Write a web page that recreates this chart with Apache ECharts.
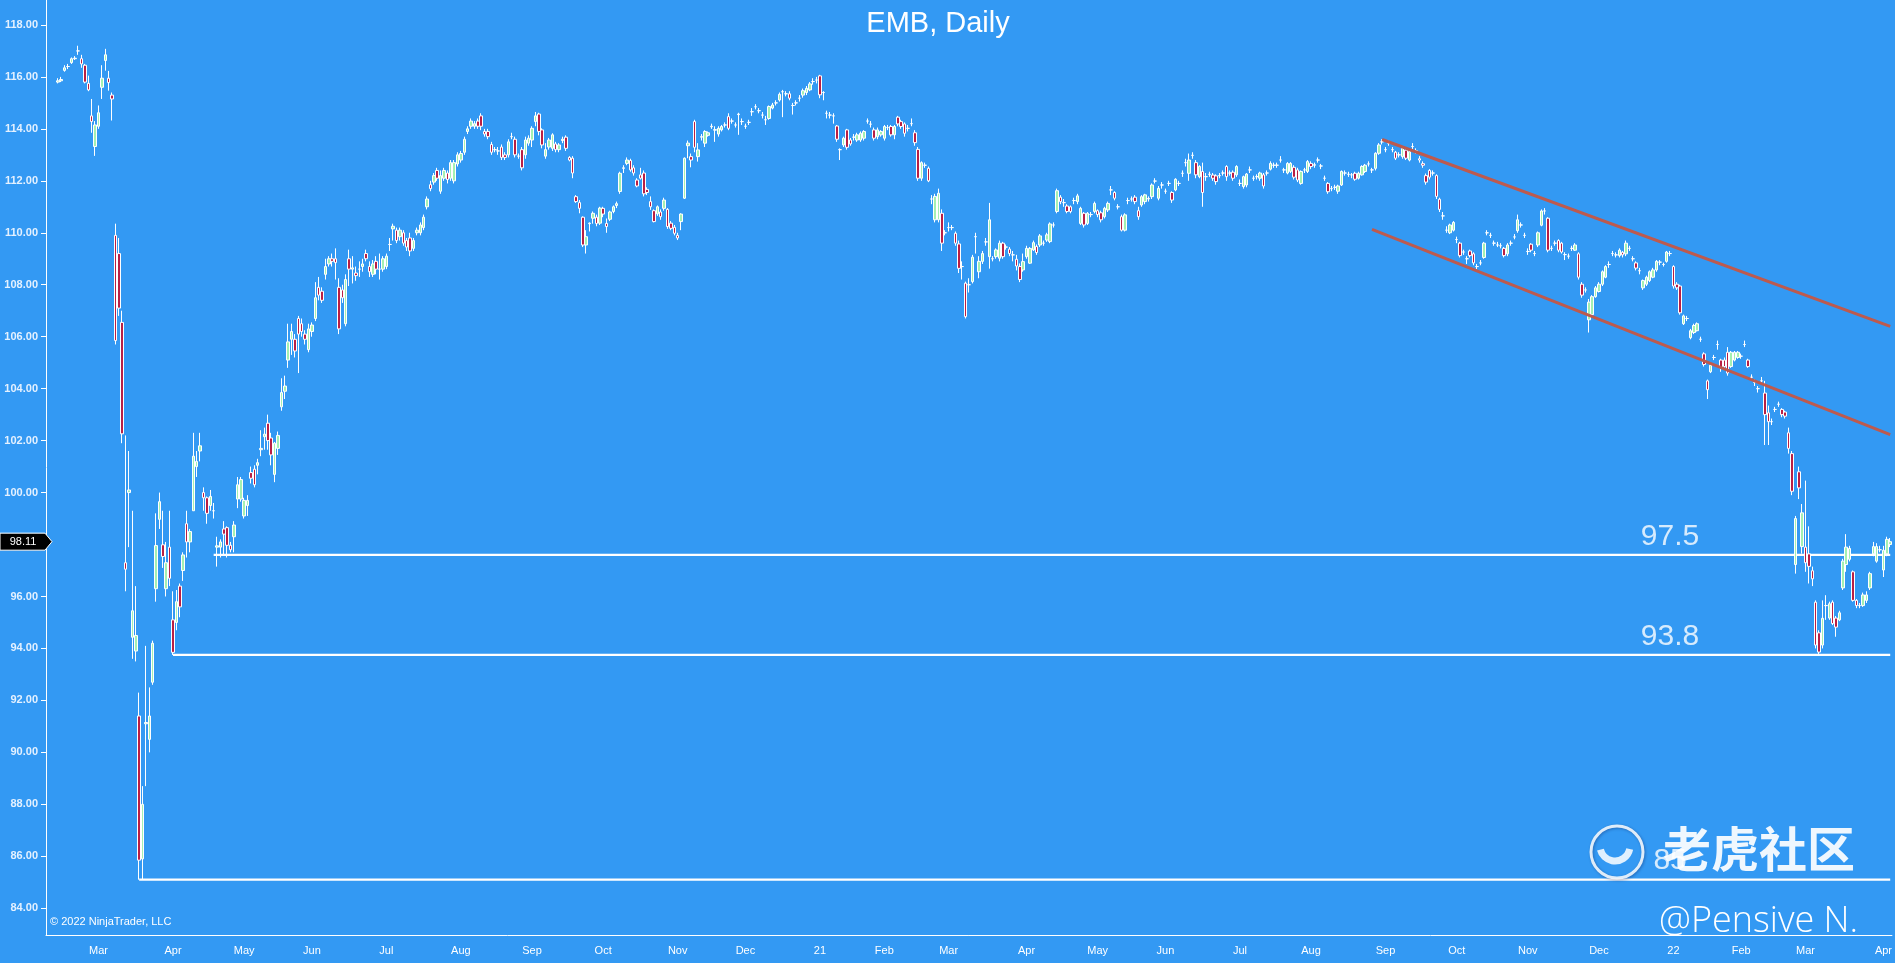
<!DOCTYPE html>
<html><head><meta charset="utf-8">
<script src="https://cdn.jsdelivr.net/npm/echarts/dist/echarts.min.js"></script>
<style>html,body{margin:0;padding:0;background:#3399f3;overflow:hidden}#c{width:1895px;height:963px}</style>
</head><body><div id="c"></div>
<script>
// ---- DATA: daily bars [open, close, low, high], first bar = 2020-02-12 ----
const bars2020 = [
[115.8,115.85,115.75,115.95],[115.85,115.9,115.8,116.0],[116.25,116.35,116.2,116.45],[116.4,116.4,116.3,116.5],[116.55,116.7,116.5,116.75],
[116.7,116.72,116.65,116.8],[117.0,117.0,116.85,117.2],[116.7,116.5,116.35,116.85],[116.45,115.8,115.75,116.5],[115.75,115.5,115.45,116.05],
[114.5,114.28,113.85,115.15],[113.32,114.15,112.96,114.3],[114.1,114.62,114.0,114.9],[115.6,115.95,115.15,116.45],[116.63,116.85,116.24,117.08],
[115.95,115.78,115.47,116.23],[115.3,115.15,114.32,115.4],[109.9,105.85,105.7,110.35],[109.2,107.1,106.8,109.8],[106.55,102.26,101.9,107.0],
[97.3,97.05,96.2,102.2],[100.0,100.1,97.9,101.6],[94.43,95.45,93.6,99.3],[93.9,94.5,93.5,96.4],[91.4,85.85,85.1,92.3],
[85.9,88.0,85.1,88.7],[91.1,91.15,88.7,94.1],[90.5,91.4,90.0,92.5],[92.7,94.2,92.6,94.3],[96.3,97.96,95.8,99.2],
[98.97,99.65,98.6,100.0],[97.99,97.54,97.1,99.3],[96.3,97.3,96.0,98.1],[97.9,96.7,96.4,99.3],[95.1,93.85,93.75,96.2],
[95.0,95.8,94.7,96.25],[96.4,95.6,95.2,96.5],[97.0,97.6,96.6,97.7],[98.8,98.1,97.5,99.3],[98.1,98.5,97.7,98.6],
[99.3,101.4,99.3,102.3],[101.0,101.2,100.6,101.6],[101.6,101.8,101.2,102.3],[100.0,99.8,99.3,100.2],[99.8,99.2,98.8,99.85],
[99.5,99.85,99.3,100.1],[99.3,99.3,99.0,99.6],[97.9,97.95,97.15,98.3],[97.9,98.1,97.5,98.2],[98.6,98.4,97.6,98.9],
[98.65,97.97,97.5,98.7],[97.97,97.8,97.7,98.1],[98.3,98.75,97.7,98.9],[99.75,100.3,99.4,100.6],[99.75,100.5,99.65,100.6],
[99.1,99.7,99.0,99.8],[99.5,99.7,99.1,99.9],[100.77,100.55,100.35,101.0],[100.9,100.3,100.2,101.05],[101.05,101.15,100.7,101.3],
[101.65,101.7,101.4,102.4],[102.15,102.25,101.65,102.5],[102.67,102.0,101.65,103.0],[102.1,101.45,101.05,102.3],[100.7,101.9,100.4,101.95],
[101.7,102.2,101.45,102.35],[103.3,103.85,103.15,104.4],[103.9,104.1,103.6,104.5],[105.1,105.8,104.8,106.5],[105.9,106.2,105.3,106.5],
[105.9,105.45,105.2,106.1],[106.7,106.1,104.6,106.8],[106.5,106.2,106.0,106.7],[106.1,105.9,105.7,106.25],[105.5,106.3,105.4,106.5],
[106.2,106.45,106.0,106.55],[106.7,107.5,106.6,108.1],[107.9,107.6,107.4,108.3],[107.75,107.4,107.3,107.9],[108.4,108.7,108.2,109.0],
[108.8,109.0,108.7,109.1],[109.0,108.9,108.7,109.2],[109.0,108.85,108.2,109.4],[107.9,106.3,106.1,108.25],[107.8,107.5,107.3,108.0],
[106.5,108.2,106.4,108.4],[109.0,108.6,107.95,109.35],[108.6,108.65,108.05,109.1],[108.45,108.35,108.15,108.7],[108.6,108.6,108.3,108.9],
[108.7,108.8,108.5,109.0],[109.2,109.0,108.9,109.35],[108.7,108.5,108.3,108.9],[108.4,108.8,108.3,108.95],[108.9,108.6,108.4,109.1],
[108.6,108.6,108.2,109.2],[108.6,109.0,108.5,109.1],[108.7,109.1,108.6,109.2],[109.55,109.55,109.3,109.8],[110.15,110.25,109.7,110.35],
[110.1,109.7,109.6,110.2],[109.85,110.1,109.7,110.2],[110.0,109.6,109.5,110.1],[109.7,109.45,109.3,109.8],[109.8,109.3,109.1,110.0],
[109.4,109.7,109.3,109.8],[110.0,110.1,109.9,110.2],[110.0,110.3,109.9,110.4],[110.2,110.6,110.1,110.7],[111.0,111.3,110.9,111.4],
[111.85,111.7,111.6,112.0],[111.95,112.2,111.85,112.3],[112.4,112.1,112.0,112.5],[111.6,112.2,111.5,112.4],[112.1,112.4,112.0,112.5],
[112.3,112.05,111.9,112.4],[112.1,112.7,112.0,112.8],[112.0,112.7,111.9,112.8],[112.65,113.0,112.55,113.1],[112.8,113.05,112.7,113.15],
[113.1,113.6,113.0,113.7],[113.9,114.0,113.8,114.1],[114.1,114.3,114.0,114.4],[114.1,114.2,114.0,114.3],[114.3,114.1,114.0,114.4],
[114.5,114.1,113.95,114.6],[113.9,113.8,113.7,114.0],[113.9,113.7,113.6,114.0],[113.4,113.1,113.0,113.5],[113.2,113.2,113.1,113.3],
[113.15,113.15,113.0,113.3],[113.3,112.9,112.8,113.4],[113.0,112.9,112.8,113.1],[113.0,113.5,112.9,113.6],[113.7,113.7,113.6,113.85],
[113.6,113.0,112.9,113.7],[112.95,112.95,112.85,113.05],[113.2,112.5,112.4,113.3],[113.0,113.57,112.85,113.7],[113.45,113.64,113.35,113.75],
[113.57,114.02,113.3,114.1],[114.28,114.5,114.1,114.65],[114.57,113.9,113.75,114.62],[113.96,113.38,113.25,114.02],[112.95,113.2,112.85,113.45],
[113.3,113.57,113.2,113.65],[113.25,113.77,113.15,113.83],[113.42,113.2,113.1,113.5],[113.2,113.38,113.1,113.45],[113.55,113.6,113.45,113.7],
[113.68,113.25,113.15,113.75],[112.9,112.8,112.75,112.95],[112.87,112.3,112.1,112.95],[111.39,111.2,111.15,111.45],[111.16,110.94,110.75,111.26],
[110.6,109.53,109.45,110.63],[109.53,109.85,109.2,110.1],[110.35,110.37,110.05,110.4],[110.56,110.75,110.35,110.82],[110.6,110.36,110.25,110.7],
[110.37,110.95,110.3,111.0],[110.94,110.72,110.6,111.0],[110.36,110.24,110.0,110.55],[110.52,110.8,110.45,110.85],[110.82,111.0,110.75,111.05],
[111.05,111.12,110.95,111.2],[111.59,112.29,111.5,112.35],[112.48,112.5,112.3,112.6],[112.67,112.8,112.6,112.9],[112.78,112.42,112.35,112.85],
[112.5,112.3,112.2,112.6],[112.03,111.8,111.75,112.1],[112.23,112.1,112.05,112.5],[112.3,111.5,111.4,112.4],[111.67,111.55,111.45,111.75],
[111.2,111.0,110.88,111.4],[110.85,110.43,110.4,110.9],[110.73,111.0,110.65,111.05],[110.8,110.62,110.5,110.9],[110.94,111.26,110.85,111.35],
[110.9,110.24,110.15,110.95],[110.37,110.17,110.1,110.45],[110.21,109.98,109.9,110.3],[109.9,109.8,109.72,110.0],[110.43,110.72,110.1,110.75],
[111.33,112.87,111.3,112.9],[113.35,113.45,112.87,113.55],[112.93,112.8,112.52,113.05],[114.28,113.29,113.1,114.35],[112.93,113.19,112.74,113.45],
[113.68,113.7,113.55,113.8],[113.45,113.9,113.3,113.95],[113.75,113.85,113.7,113.9],[114.08,114.1,114.0,114.2],[113.95,113.97,113.5,114.1],
[113.8,114.02,113.7,114.1],[113.96,114.09,113.9,114.15],[114.15,114.15,114.05,114.25],[114.47,114.02,113.95,114.6],[114.3,114.3,114.2,114.4],
[114.15,114.15,114.05,114.25],[114.55,114.57,113.77,114.62],[114.28,114.28,114.15,114.4],[114.1,114.1,114.0,114.2],[114.25,114.25,114.15,114.35],
[114.66,114.66,114.5,114.8],[114.85,114.85,114.75,114.95],[114.7,114.7,114.6,114.8],[114.53,114.53,114.4,114.65],[114.35,114.35,114.15,114.5],
[114.4,114.86,114.35,114.9],[114.8,114.92,114.75,115.0],[115.0,115.0,114.9,115.1],[115.11,115.33,115.05,115.4],[115.43,115.43,114.45,115.5],
[115.35,115.35,115.25,115.45],[115.35,115.18,115.1,115.45],[114.9,114.9,114.55,115.0],[115.0,115.0,114.9,115.1],[115.18,115.18,115.05,115.3],
[115.3,115.47,115.2,115.55],[115.4,115.56,115.3,115.65],[115.5,115.73,115.45,115.8],[115.82,115.82,115.7,115.95],[115.88,115.88,115.75,116.0]
];
const bars2021 = [
[116.04,115.31,115.18,116.08],[115.4,115.4,115.1,115.45],[114.6,114.6,114.4,114.7],[114.53,114.53,114.4,114.65],[114.5,114.5,114.2,114.6],
[114.11,113.6,113.5,114.15],[113.2,113.2,112.8,113.25],[113.38,113.64,113.3,113.7],[113.96,113.29,113.2,114.0],[113.57,113.42,113.35,113.65],
[113.68,113.68,113.55,113.8],[113.57,113.77,113.5,113.85],[113.57,113.83,113.5,113.9],[113.64,113.9,113.55,113.95],[114.3,114.3,114.2,114.4],
[114.18,114.18,114.05,114.3],[113.96,113.64,113.55,114.05],[113.7,113.96,113.6,114.05],[113.77,113.9,113.7,113.95],[113.64,114.09,113.55,114.15],
[114.05,114.05,113.95,114.15],[114.09,113.77,113.7,114.15],[113.77,114.09,113.6,114.15],[114.45,114.19,114.1,114.5],[114.28,114.09,114.0,114.35],
[114.19,113.83,113.7,114.25],[114.02,114.02,113.9,114.15],[114.2,114.2,114.1,114.4],[113.85,113.47,113.35,113.95],[113.21,112.1,112.0,113.3],
[112.1,112.7,112.0,112.75],[112.6,112.6,112.5,112.7],[112.48,112.0,111.95,112.55],[111.3,111.3,111.1,111.45],[110.5,111.4,110.4,111.5],
[110.5,111.52,110.4,111.7],[110.75,109.6,109.3,110.9],[110.0,110.0,109.9,110.1],[110.2,110.2,110.05,110.4],[110.2,110.2,110.1,110.3],
[109.98,109.6,109.5,110.05],[109.57,108.63,108.45,109.7],[108.7,108.7,108.2,108.9],[108.06,106.77,106.7,108.12],[108.0,108.0,107.7,108.25],
[108.12,109.06,108.05,109.15],[109.85,109.85,109.2,110.0],[108.5,108.9,108.25,109.1],[108.9,109.2,108.8,109.3],[109.65,109.65,109.5,109.8],
[109.08,110.5,108.62,111.15],[109.0,109.0,108.9,109.1],[109.08,109.34,109.0,109.4],[109.02,109.6,108.9,109.7],[109.6,109.08,109.0,109.65],
[109.45,109.45,109.35,109.55],[109.37,109.2,109.1,109.45],[109.15,109.15,108.9,109.3],[108.98,108.72,108.55,109.15],[108.7,108.2,108.1,108.82],
[108.57,108.89,108.5,109.2],[109.08,109.4,109.0,109.5],[108.83,109.4,108.8,109.45],[109.34,109.62,109.3,109.7],[109.47,109.24,109.15,109.55],
[109.53,109.88,109.45,109.95],[109.6,109.6,109.5,109.7],[109.72,109.92,109.65,110.0],[109.66,110.34,109.6,110.4],[110.3,110.3,110.2,110.4],
[110.82,111.62,110.75,111.7],[111.37,111.2,111.1,111.45],[111.16,111.16,111.0,111.3],[111.03,110.82,110.75,111.1],[111.0,110.82,110.75,111.05],
[111.24,111.24,111.1,111.35],[111.2,111.42,111.1,111.5],[110.36,110.94,110.3,111.0],[110.75,110.3,110.2,110.8],[110.36,110.75,110.3,110.8],
[110.7,110.7,110.6,110.8],[110.82,111.13,110.75,111.2],[110.85,110.7,110.6,110.9],[110.77,110.5,110.4,110.85],[110.62,110.94,110.55,111.0],
[110.88,111.13,110.8,111.2],[111.65,111.65,111.45,111.8],[111.55,111.33,111.25,111.6],[111.0,111.0,110.9,111.1],[110.62,110.1,110.05,110.7],
[110.1,110.69,110.05,110.75],[111.24,111.24,111.1,111.35],[111.3,111.3,111.2,111.4],[111.37,111.2,111.1,111.45],[110.85,110.62,110.5,111.0],
[111.07,111.39,111.0,111.45],[111.2,111.46,111.1,111.5],[111.3,111.32,111.2,111.4],[111.39,111.84,111.3,111.9],[111.99,111.99,111.9,112.1],
[111.33,111.71,111.25,111.8],[111.84,111.84,111.7,111.95],[111.6,111.6,111.5,111.7],[111.9,111.9,111.8,112.0],[111.55,111.26,111.15,111.6],
[111.65,112.06,111.6,112.1],[111.9,111.9,111.8,112.0],[112.29,112.29,112.15,112.4],[112.7,112.7,112.55,112.85],[112.29,112.8,112.0,113.05],
[112.98,112.98,112.85,113.1],[112.7,112.23,112.1,112.8],[112.16,112.55,112.1,112.6],[112.36,111.55,111.0,112.7],[112.16,112.16,112.0,112.3],
[112.25,112.25,112.15,112.35],[112.22,112.1,112.0,112.3],[112.19,111.97,111.85,112.25],[112.2,112.2,112.1,112.3],[112.3,112.3,112.2,112.4],
[112.55,112.16,112.0,112.6],[112.3,112.3,112.2,112.4],[112.33,112.1,112.0,112.4],[112.23,112.55,112.15,112.6],[111.9,111.9,111.8,112.05],
[111.78,112.16,111.7,112.2],[111.84,112.26,111.75,112.3],[112.42,112.42,112.3,112.55],[112.1,112.1,112.0,112.2],[112.16,112.16,112.05,112.25],
[112.1,112.3,112.0,112.35],[112.23,111.8,111.7,112.3],[112.3,112.3,112.2,112.4],[112.45,112.67,112.4,112.75],[112.6,112.6,112.5,112.7],
[112.6,112.6,112.5,112.7],[112.8,112.8,112.7,112.95],[112.42,112.42,112.3,112.5],[112.3,112.67,112.25,112.72],[112.36,112.67,112.3,112.72],
[112.52,112.14,112.05,112.6],[112.42,112.03,111.95,112.5],[111.9,112.36,111.85,112.4],[112.42,112.42,112.3,112.5],[112.36,112.74,112.3,112.8],
[112.67,112.55,112.45,112.75],[112.6,112.62,112.5,112.7],[112.8,112.8,112.7,112.9],[112.57,112.57,112.45,112.65],[112.1,112.1,112.0,112.2],
[111.9,111.58,111.5,111.95],[111.7,111.7,111.6,111.8],[111.75,111.75,111.65,111.85],[111.6,111.8,111.5,111.85],[111.84,112.36,111.8,112.4],
[112.3,112.3,112.2,112.4],[112.25,112.25,112.15,112.35],[112.23,112.23,112.1,112.3],[112.29,112.06,112.0,112.35],[112.1,112.29,112.05,112.35],
[112.23,112.55,112.2,112.6],[112.36,112.6,112.3,112.65],[112.65,112.65,112.55,112.75],[112.42,112.42,112.3,112.5],[112.48,113.06,112.4,113.1],
[113.06,113.38,113.0,113.45],[113.5,113.5,113.4,113.6],[113.2,113.2,113.1,113.3],[113.45,113.45,113.35,113.55],[113.2,113.2,113.1,113.3],
[113.1,112.87,112.8,113.15],[113.0,113.0,112.9,113.1],[112.93,113.25,112.85,113.3],[113.18,112.87,112.8,113.25],[112.8,113.12,112.75,113.2],
[113.32,113.32,113.2,113.45],[113.15,113.15,113.05,113.25],[112.85,112.8,112.7,112.95],[112.66,112.6,112.5,112.75],[112.2,111.95,111.85,112.28],
[112.4,112.14,112.05,112.45],[112.3,112.3,112.2,112.4],[112.2,111.4,111.3,112.25],[111.29,110.9,110.8,111.35],[110.65,110.65,110.5,110.8],
[110.1,110.1,110.0,110.25],[110.0,110.3,109.95,110.35],[110.1,110.4,110.05,110.45],[109.74,109.74,109.6,109.85],[109.6,109.12,109.05,109.65],
[109.26,109.26,109.15,109.35],[109.0,109.0,108.8,109.1],[109.3,109.12,109.05,109.35],[109.19,108.84,108.75,109.25],[108.7,108.7,108.6,108.8],
[108.84,108.84,108.75,108.95],[109.05,109.6,109.0,109.65],[110.0,110.0,109.9,110.1],[109.9,109.9,109.8,110.0],[109.6,109.6,109.5,109.7],
[109.53,109.53,109.45,109.65],[109.5,109.5,109.4,109.6],[109.4,109.12,109.05,109.45],[109.19,109.53,109.1,109.6],[109.6,109.6,109.5,109.7],
[109.84,109.84,109.75,109.95],[110.08,110.5,110.0,110.7],[110.3,110.3,110.2,110.4],[109.9,109.9,109.8,110.0],[109.28,109.28,109.15,109.4],
[109.56,109.33,109.25,109.6],[109.2,109.2,109.1,109.3],[109.53,110.0,109.45,110.05],[110.29,110.84,110.25,110.9],[110.84,110.84,110.7,110.95],
[110.56,109.33,109.25,110.6],[109.4,109.4,109.3,109.5],[109.6,109.6,109.5,109.7],[109.7,109.33,109.25,109.75],[109.6,109.26,109.2,109.65],
[109.16,109.16,108.95,109.25],[109.1,109.1,109.0,109.2],[109.4,109.4,109.3,109.5],[109.33,109.53,109.3,109.6],[109.19,108.29,108.2,109.25],
[108.02,107.6,107.5,108.1],[107.8,107.8,107.7,107.9],[106.65,107.33,106.16,107.45],[106.85,107.54,106.8,107.6],[107.54,107.88,107.5,107.95],
[107.74,108.02,107.7,108.1],[108.02,108.5,107.95,108.55],[108.29,108.7,108.25,108.75],[108.78,108.78,108.65,108.9],[109.2,109.2,109.1,109.3],
[109.15,109.15,109.05,109.25],[109.12,109.33,109.05,109.4],[109.25,109.15,109.05,109.3],[109.19,109.6,109.1,109.7],[109.4,109.4,109.3,109.5],
[109.0,109.0,108.9,109.1],[108.84,108.64,108.55,108.9],[108.54,108.54,108.4,108.65],[107.88,108.16,107.8,108.2],[108.02,108.29,107.95,108.35],
[108.16,108.5,108.1,108.55],[108.29,108.57,108.25,108.65],[108.57,108.9,108.5,108.95],[108.87,108.87,108.75,108.95],[108.78,108.78,108.7,108.85],
[108.9,109.26,108.85,109.3],[109.2,109.2,109.1,109.3]
];
const bars2022 = [
[108.7,107.95,107.85,108.75],[108.02,107.88,107.8,108.1],[107.95,106.92,106.85,108.0],[106.5,106.8,106.45,106.85],[106.7,106.7,106.6,106.8],
[105.96,106.23,105.9,106.3],[106.16,106.43,106.1,106.5],[106.23,106.5,106.2,106.55],[105.9,105.9,105.8,106.0],[105.34,104.93,104.85,105.4],
[104.3,103.96,103.6,104.35],[104.65,104.9,104.6,104.95],[105.2,105.2,105.1,105.3],[105.7,105.7,105.5,105.85],[105.1,104.8,104.65,105.15],
[105.1,104.85,104.75,105.2],[105.4,104.6,104.5,105.6],[104.85,105.4,104.8,105.45],[105.1,105.4,105.05,105.45],[105.2,105.4,105.15,105.45],
[105.25,105.25,105.15,105.35],[105.7,105.7,105.6,105.85],[105.1,104.85,104.8,105.15],[104.44,104.44,104.3,104.55],[104.24,104.24,104.1,104.35],
[104.0,104.0,103.85,104.1],[104.3,104.3,104.2,104.45],[103.83,103.0,101.83,104.3],[103.07,102.73,101.83,103.35],[102.73,102.73,102.6,102.85],
[103.2,103.2,103.1,103.3],[103.4,103.4,103.3,103.5],[103.2,103.0,102.9,103.25],[103.1,102.94,102.85,103.15],[102.3,101.7,101.5,102.5],
[101.5,100.05,99.9,101.6],[97.23,99.0,96.88,99.1],[100.8,100.18,99.75,101.0],[97.92,99.22,97.65,99.56],[97.9,97.3,96.95,100.46],
[97.64,97.16,96.5,98.7],[96.99,96.68,96.4,97.15],[95.78,94.13,94.0,95.85],[94.6,93.86,93.72,94.7],[94.13,95.16,94.0,95.85],
[95.65,95.65,95.1,96.05],[95.17,95.72,95.1,95.8],[95.78,94.96,94.9,95.85],[95.17,94.82,94.45,95.25],[95.1,95.37,95.05,95.45],
[96.33,97.36,96.25,97.45],[97.23,97.9,96.95,98.4],[97.43,97.85,97.35,97.95],[96.95,95.85,95.8,97.0],[95.85,95.65,95.55,95.9],
[95.65,95.65,95.55,95.75],[95.65,96.06,95.6,96.15],[95.85,96.06,95.75,96.2],[96.33,96.88,96.25,96.95],[97.64,97.92,97.55,98.1],
[97.36,97.92,97.3,98.05],[97.8,97.8,97.7,97.95],[97.02,97.78,96.75,97.95],[97.64,98.2,97.55,98.3],[98.0,98.11,97.9,98.25]
];
// month tick positions (bar index) and labels
const monthTickBar = [12,34,55,75,97,119,140,161,183,203,225,244,263,286,307,327,349,370,392,413,434,455,477,497,516,539];
const monthTickLabel = ['Mar','Apr','May','Jun','Jul','Aug','Sep','Oct','Nov','Dec','21','Feb','Mar','Apr','May','Jun','Jul','Aug','Sep','Oct','Nov','Dec','22','Feb','Mar','Apr'];
const yTicks = [84,86,88,90,92,94,96,98,100,102,104,106,108,110,112,114,116,118];
// horizontal support levels
const levelStart = [24, 34, 46];
const levelValue = [85.1, 93.75, 97.6];
const levelText = ['85', '93.8', '97.5'];
// channel lines: [bar, value] endpoints
const upperChannel = [[391, 113.59], [541, 106.40]];
const lowerChannel = [[388, 110.13], [541, 102.23]];
const lastPrice = 98.11;

// ---- build ----
const PAD = 3;
const bars = bars2020.concat(bars2021, bars2022);
const nCat = PAD + bars.length;
const cats = []; for (let k = 0; k < nCat; k++) cats.push(String(k));
const candleData = bars.map((b, i) => [i + PAD, b[0], b[1], b[2], b[3]]);
const tickMap = new Map(); monthTickBar.forEach((b, j) => tickMap.set(b + PAD, monthTickLabel[j]));
const lastCat = nCat - 1;
const FONT = '"Liberation Sans", Arial, sans-serif';

const series = [{
  type: 'candlestick', data: candleData, encode: { x: 0, y: [1, 2, 3, 4] },
  barWidth: 3,
  itemStyle: { color: '#a4f0b2', color0: '#b81f45', borderColor: '#ffffff', borderColor0: '#ffffff', borderWidth: 1 },
  z: 3
}];
levelValue.forEach((v, j) => {
  series.push({ type: 'line', data: [[levelStart[j] + PAD, v], [lastCat, v]], symbol: 'none',
    lineStyle: { color: '#ffffff', width: 2.2 }, z: 2, silent: true });
});
series.push({ type: 'line', data: upperChannel.map(p => [p[0] + PAD, p[1]]), symbol: 'none',
  lineStyle: { color: '#bd5a4e', width: 3 }, z: 4, silent: true });
series.push({ type: 'line', data: lowerChannel.map(p => [p[0] + PAD, p[1]]), symbol: 'none',
  lineStyle: { color: '#bd5a4e', width: 3 }, z: 4, silent: true });
series.push({ type: 'scatter', symbolSize: 1, itemStyle: { color: 'rgba(0,0,0,0)' }, z: 5, silent: true,
  data: levelValue.map((v, j) => [479, v, levelText[j]]),
  label: { show: true, position: 'top', distance: 3, formatter: p => p.value[2], color: '#ffffff', fontSize: 30, fontFamily: FONT } });

const chart = echarts.init(document.getElementById('c'), null, { renderer: 'canvas' });
chart.setOption({
  animation: false,
  backgroundColor: '#3399f3',
  grid: { left: 46, right: 0, top: 0, bottom: 28, containLabel: false },
  xAxis: {
    type: 'category', data: cats, boundaryGap: true,
    axisLine: { lineStyle: { color: '#ffffff', width: 1 } },
    axisTick: { alignWithLabel: true, interval: (idx) => tickMap.has(idx), length: 5, lineStyle: { color: '#ffffff' } },
    axisLabel: { interval: (idx) => tickMap.has(idx), formatter: (v, idx) => tickMap.get(idx) || '', color: '#ffffff', fontSize: 11, fontFamily: '"Liberation Sans Narrow", ' + FONT, margin: 10 },
    splitLine: { show: false }
  },
  yAxis: {
    type: 'value', min: 82.97, max: 118.96, position: 'left',
    axisLine: { show: true, lineStyle: { color: '#ffffff', width: 1 } },
    axisTick: { show: true, customValues: yTicks, length: 5, lineStyle: { color: '#ffffff' } },
    axisLabel: { customValues: yTicks, formatter: v => v.toFixed(2), color: '#e4f1ff', fontSize: 11, fontWeight: 'bold', fontFamily: FONT, margin: 8 },
    splitLine: { show: false }
  },
  series: series
});

const yLast = chart.convertToPixel({ yAxisIndex: 0 }, lastPrice);
chart.setOption({
  graphic: [
    { type: 'text', x: 938, y: 24, z: 10, style: { text: 'EMB, Daily', fill: '#ffffff', font: '29px ' + FONT, textAlign: 'center', textVerticalAlign: 'middle' } },
    { type: 'text', x: 50, y: 922, z: 10, style: { text: '© 2022 NinjaTrader, LLC', fill: '#ffffff', font: '11px ' + FONT, textVerticalAlign: 'middle' } },
    { type: 'polygon', z: 10, shape: { points: [[0, yLast - 8.5], [45, yLast - 8.5], [52, yLast], [45, yLast + 8.5], [0, yLast + 8.5]] }, style: { fill: '#000000', stroke: '#ffffff', lineWidth: 1 } },
    { type: 'text', x: 23, y: yLast, z: 11, style: { text: lastPrice.toFixed(2), fill: '#ffffff', font: '11px ' + FONT, textAlign: 'center', textVerticalAlign: 'middle' } },
    { type: 'circle', z: 20, shape: { cx: 1617, cy: 852, r: 26 }, style: { fill: 'none', stroke: 'rgba(255,255,255,0.85)', lineWidth: 3, shadowColor: 'rgba(0,0,60,0.35)', shadowBlur: 3, shadowOffsetX: 1, shadowOffsetY: 1 } },
    { type: 'arc', z: 20, shape: { cx: 1615, cy: 846, r: 15, startAngle: 0.2, endAngle: 2.9 }, style: { fill: 'none', stroke: 'rgba(255,255,255,0.85)', lineWidth: 7 } },
    { type: 'text', x: 1663, y: 849, z: 20, style: { text: '老虎社区', fill: 'rgba(255,255,255,0.92)', font: 'bold 48px "Noto Sans CJK SC"', textVerticalAlign: 'middle', shadowColor: 'rgba(0,0,60,0.45)', shadowBlur: 3, shadowOffsetX: 2, shadowOffsetY: 2 } },
    { type: 'text', x: 1659, y: 922, z: 20, style: { text: '@Pensive N.', fill: '#ffffff', font: '300 36px "Open Sans"', textVerticalAlign: 'middle' } }
  ]
});
</script></body></html>
